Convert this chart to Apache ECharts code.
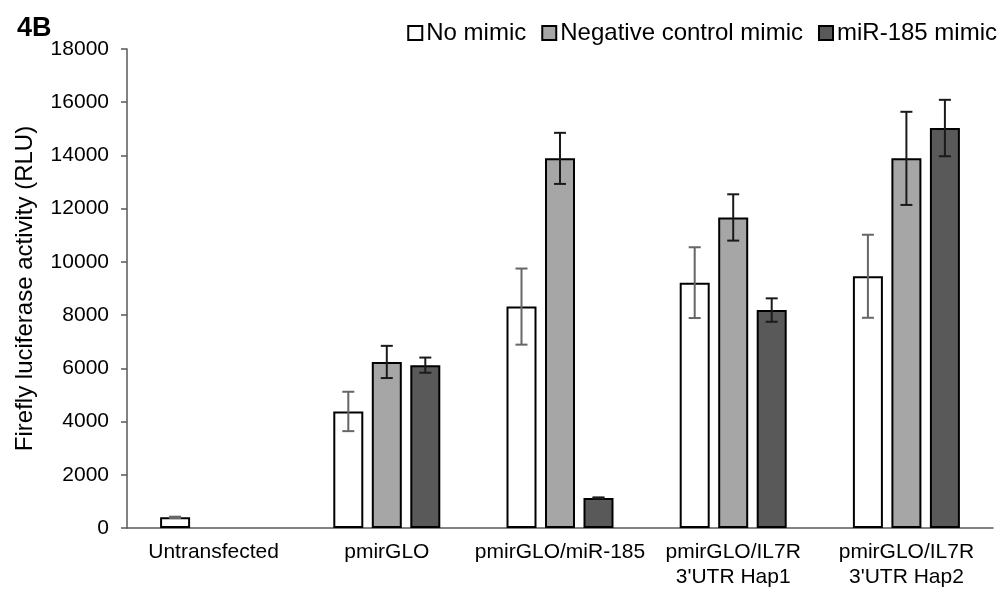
<!DOCTYPE html>
<html><head><meta charset="utf-8">
<script src="https://cdn.jsdelivr.net/npm/echarts@6/dist/echarts.min.js"></script>
<style>html,body{margin:0;padding:0;background:#fff}#c{width:1002px;height:590px}</style>
</head><body><div id="c"></div>
<script>
const categories = ['Untransfected', 'pmirGLO', 'pmirGLO/miR-185', "pmirGLO/IL7R\n3'UTR Hap1", "pmirGLO/IL7R\n3'UTR Hap2"];
const seriesNames = ['No mimic', 'Negative control mimic', 'miR-185 mimic'];
const noMimic = [400, 4380, 8320, 9220, 9460];
const noMimicErr = [25, 740, 1430, 1330, 1560];
const negCtrl = [null, 6240, 13890, 11670, 13890];
const negCtrlErr = [null, 605, 960, 870, 1750];
const mir185 = [null, 6120, 1130, 8190, 15030];
const mir185Err = [null, 285, 20, 440, 1060];
const yMin = 0, yMax = 18000, yStep = 2000;

const FONT = 'Liberation Sans, Arial, sans-serif';
const fills = ['#ffffff', '#a6a6a6', '#595959'];
const errColors = ['#666666', '#1a1a1a', '#1a1a1a'];
const values = [noMimic, negCtrl, mir185];
const errs = [noMimicErr, negCtrlErr, mir185Err];
const BAR_W = 30, PITCH = 38.5;

const chart = echarts.init(document.getElementById('c'), null, {renderer: 'canvas'});

const barSeries = seriesNames.map((n, i) => ({
  name: n, type: 'bar', barWidth: BAR_W, barGap: ((PITCH - BAR_W) / BAR_W * 100) + '%',
  data: values[i],
  itemStyle: {color: fills[i], borderColor: '#000', borderWidth: 2},
  emphasis: {disabled: true}, z: 2
}));

const errSeries = seriesNames.map((n, i) => ({
  name: n + ' err', type: 'custom', z: 5,
  data: values[i].map((v, k) => v == null ? null : [k, v, errs[i][k]]).filter(d => d),
  renderItem: function (params, api) {
    const x = api.value(0), v = api.value(1), e = api.value(2);
    const top = api.coord([x, v + e]);
    const bot = api.coord([x, v - e]);
    const cx = top[0] + (i - 1) * PITCH;
    const hw = 6;
    const st = {stroke: errColors[i], lineWidth: 2};
    return {type: 'group', children: [
      {type: 'line', shape: {x1: cx, y1: top[1], x2: cx, y2: bot[1]}, style: st},
      {type: 'line', shape: {x1: cx - hw, y1: top[1], x2: cx + hw, y2: top[1]}, style: st},
      {type: 'line', shape: {x1: cx - hw, y1: bot[1], x2: cx + hw, y2: bot[1]}, style: st}
    ]};
  }
}));

chart.setOption({
  animation: false,
  textStyle: {fontFamily: FONT},
  title: {text: '4B', left: 12, top: 10, textStyle: {fontFamily: FONT, fontSize: 27, fontWeight: 'bold', color: '#000'}},
  legend: {
    data: seriesNames, right: 5, top: 21, icon: 'rect', itemWidth: 14, itemHeight: 14, itemGap: 15, padding: 0,
    textStyle: {fontFamily: FONT, fontSize: 24, color: '#000', padding: [0, 0, 0, -1]}
  },
  grid: {left: 127, right: 9, top: 49, bottom: 56, containLabel: false},
  xAxis: {
    type: 'category', data: categories,
    axisLine: {lineStyle: {color: '#595959', width: 1.5}},
    axisTick: {show: false},
    axisLabel: {interval: 0, color: '#000', fontFamily: FONT, fontSize: 21, lineHeight: 25, margin: 12}
  },
  yAxis: {
    type: 'value', min: yMin, max: yMax, interval: yStep,
    name: 'Firefly luciferase activity (RLU)', nameLocation: 'middle', nameGap: 90,
    nameTextStyle: {fontFamily: FONT, fontSize: 24, color: '#000'},
    axisLine: {show: true, lineStyle: {color: '#595959', width: 1.5}},
    axisTick: {show: true, length: 6, lineStyle: {color: '#595959', width: 1.5}},
    splitLine: {show: false},
    axisLabel: {color: '#000', fontFamily: FONT, fontSize: 21, margin: 18, formatter: v => String(v)}
  },
  series: [...barSeries, ...errSeries]
});
</script></body></html>
